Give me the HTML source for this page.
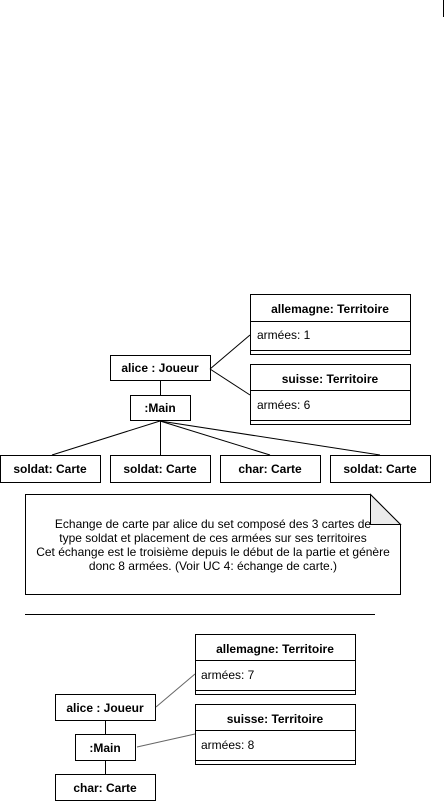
<!DOCTYPE html>
<html><head><meta charset="utf-8"><style>
html,body{margin:0;padding:0;background:#fff;width:445px;height:802px;overflow:hidden}
svg{display:block}
text{font-family:"Liberation Sans",Arial,sans-serif;font-size:12px;fill:#000}
.b{font-weight:bold}
</style></head><body>
<svg width="445" height="802" viewBox="0 0 445 802" xmlns="http://www.w3.org/2000/svg">
<line x1="443.5" y1="0" x2="443.5" y2="17" stroke="#000"/>
<g fill="#fff" stroke="#000" stroke-width="1">
<rect x="250.5" y="294.5" width="160" height="60"/>
<line x1="250" y1="321.5" x2="411" y2="321.5"/>
<line x1="250" y1="350.5" x2="411" y2="350.5"/>
<rect x="250.5" y="364.5" width="160" height="60"/>
<line x1="250" y1="390.5" x2="411" y2="390.5"/>
<line x1="250" y1="420.5" x2="411" y2="420.5"/>
<rect x="110.5" y="355.5" width="100" height="25"/>
<rect x="130.5" y="395.5" width="60" height="25"/>
<line x1="160.5" y1="381" x2="160.5" y2="395"/>
<line x1="210" y1="369" x2="250" y2="335"/>
<line x1="210" y1="369" x2="250" y2="395"/>
<line x1="160" y1="421" x2="52" y2="455"/>
<line x1="160.5" y1="421" x2="160.5" y2="455"/>
<line x1="160" y1="421" x2="270" y2="455"/>
<line x1="160" y1="421" x2="380" y2="455"/>
<rect x="0.5" y="455.5" width="100" height="27"/>
<rect x="110.5" y="455.5" width="100" height="27"/>
<rect x="220.5" y="455.5" width="100" height="27"/>
<rect x="330.5" y="455.5" width="100" height="27"/>
<path d="M25.5 494.5 H370.5 L400.5 524.5 V594.5 H25.5 Z"/>
<path d="M370.5 494.5 V524.5 H400.5 Z" fill="#ebebeb"/>
<line x1="25" y1="614.5" x2="375" y2="614.5"/>
<rect x="195.5" y="634.5" width="160" height="60"/>
<line x1="195" y1="660.5" x2="356" y2="660.5"/>
<line x1="195" y1="690.5" x2="356" y2="690.5"/>
<rect x="195.5" y="704.5" width="160" height="60"/>
<line x1="195" y1="730.5" x2="356" y2="730.5"/>
<line x1="195" y1="760.5" x2="356" y2="760.5"/>
<rect x="55.5" y="694.5" width="100" height="26"/>
<rect x="75.5" y="734.5" width="60" height="26"/>
<rect x="55.5" y="774.5" width="100" height="26"/>
<line x1="105.5" y1="721" x2="105.5" y2="734"/>
<line x1="105.5" y1="761" x2="105.5" y2="774"/>
<line x1="156" y1="707" x2="195" y2="674" stroke="#666"/>
<line x1="137" y1="747" x2="195" y2="734" stroke="#666"/>
</g>
<g text-anchor="middle">
<text class="b" x="330" y="313">allemagne: Territoire</text>
<text class="b" x="330" y="383">suisse: Territoire</text>
<text class="b" x="160" y="372">alice : Joueur</text>
<text class="b" x="160" y="412">:Main</text>
<text class="b" x="50" y="473">soldat: Carte</text>
<text class="b" x="160" y="473">soldat: Carte</text>
<text class="b" x="270" y="473">char: Carte</text>
<text class="b" x="380" y="473">soldat: Carte</text>
<text x="213" y="528">Echange de carte par alice du set composé des 3 cartes de</text>
<text x="213" y="542">type soldat et placement de ces armées sur ses territoires</text>
<text x="213" y="556">Cet échange est le troisième depuis le début de la partie et génère</text>
<text x="213" y="570">donc 8 armées. (Voir UC 4: échange de carte.)</text>
<text class="b" x="275" y="653">allemagne: Territoire</text>
<text class="b" x="275" y="723">suisse: Territoire</text>
<text class="b" x="105" y="712">alice : Joueur</text>
<text class="b" x="105" y="752">:Main</text>
<text class="b" x="105" y="792">char: Carte</text>
</g>
<text x="257" y="339">armées: 1</text>
<text x="257" y="409">armées: 6</text>
<text x="201" y="679">armées: 7</text>
<text x="201" y="749">armées: 8</text>
</svg>
</body></html>
